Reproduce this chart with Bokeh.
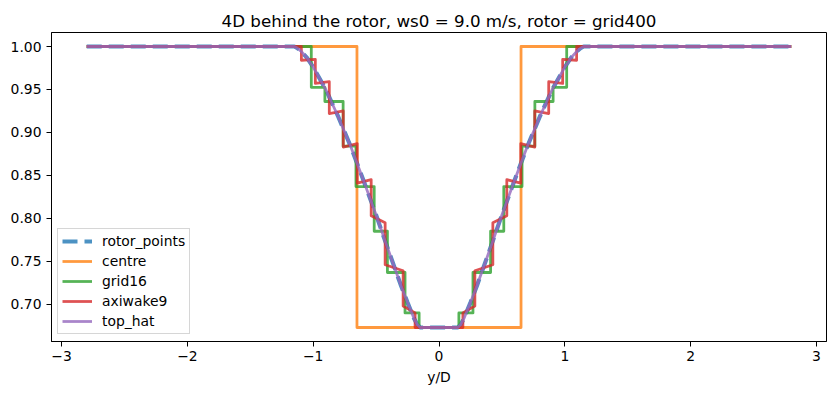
from bokeh.plotting import figure
from bokeh.models import FixedTicker, Range1d, Legend, LegendItem, CustomJSTickFormatter
from bokeh.embed import file_html
from bokeh.resources import INLINE

# ---- data ----
title_text = "4D behind the rotor, ws0 = 9.0 m/s, rotor = grid400"
x_ticks = [-3, -2, -1, 0, 1, 2, 3]
x_tick_labels = ["\u22123", "\u22122", "\u22121", "0", "1", "2", "3"]
y_ticks = [0.70, 0.75, 0.80, 0.85, 0.90, 0.95, 1.00]
y_tick_labels = ["0.70", "0.75", "0.80", "0.85", "0.90", "0.95", "1.00"]

top_hat_y = [-2.8, -1.15, -1.125, -1.1, -1.05, -1.0, -0.9, -0.8, -0.7, -0.6, -0.5, -0.4,
             -0.3, -0.25, -0.2, -0.175, -0.15, 0.15, 0.175, 0.2, 0.25, 0.3, 0.4, 0.5,
             0.6, 0.7, 0.8, 0.9, 1.0, 1.05, 1.1, 1.125, 1.15, 2.8]
top_hat_v = [1.0, 1.0, 0.998, 0.995, 0.987, 0.976, 0.950, 0.918, 0.883, 0.844, 0.804, 0.762,
             0.721, 0.702, 0.684, 0.677, 0.673, 0.673, 0.677, 0.684, 0.702, 0.721, 0.762, 0.804,
             0.844, 0.883, 0.918, 0.950, 0.976, 0.987, 0.995, 0.998, 1.0, 1.0]

rotor_points_y = [-2.8, -1.15, -1.125, -1.1, -1.05, -1.0, -0.9, -0.8, -0.7, -0.6, -0.5, -0.4,
                  -0.3, -0.25, -0.2, -0.175, -0.15, 0.15, 0.175, 0.2, 0.25, 0.3, 0.4, 0.5,
                  0.6, 0.7, 0.8, 0.9, 1.0, 1.05, 1.1, 1.125, 1.15, 2.8]
rotor_points_v = [1.0, 1.0, 0.998, 0.995, 0.987, 0.976, 0.950, 0.918, 0.883, 0.844, 0.804, 0.762,
                  0.721, 0.702, 0.684, 0.677, 0.673, 0.673, 0.677, 0.684, 0.702, 0.721, 0.762, 0.804,
                  0.844, 0.883, 0.918, 0.950, 0.976, 0.987, 0.995, 0.998, 1.0, 1.0]

centre_y = [-2.8, -0.652, 0.652, 2.8]
centre_v = [1.0, 0.673, 1.0, 1.0]

grid16_y = [-2.8, -1.015, -0.907, -0.762, -0.66, -0.515, -0.41, -0.27, -0.158,
            0.158, 0.27, 0.41, 0.515, 0.66, 0.762, 0.907, 1.015, 2.8]
grid16_v = [1.0, 0.9525, 0.936, 0.884, 0.837, 0.785, 0.737, 0.690, 0.673,
            0.690, 0.737, 0.785, 0.837, 0.884, 0.936, 0.9525, 1.0, 1.0]

axiwake9_y = [-2.8, -1.094, -1.094, -0.983, -0.983, -0.872, -0.872, -0.761, -0.761, -0.65,
              -0.65, -0.539, -0.539, -0.428, -0.428, -0.285, -0.285, -0.19, -0.19,
              0.19, 0.19, 0.285, 0.285, 0.428, 0.428, 0.539, 0.539, 0.65, 0.65,
              0.761, 0.761, 0.872, 0.872, 0.983, 0.983, 1.094, 1.094, 2.8]
axiwake9_v = [1.0, 1.0, 0.984, 0.985, 0.957, 0.959, 0.922, 0.925, 0.883, 0.887,
              0.841, 0.845, 0.803, 0.795, 0.746, 0.739, 0.698, 0.690, 0.673,
              0.673, 0.690, 0.698, 0.739, 0.746, 0.795, 0.803, 0.845, 0.841, 0.887,
              0.883, 0.925, 0.922, 0.959, 0.957, 0.985, 0.984, 1.0, 1.0]

series_names = ["rotor_points", "centre", "grid16", "axiwake9", "top_hat"]
colors = ["#1f77b4", "#ff7f0e", "#2ca02c", "#d62728", "#9467bd"]

FONT = "DejaVu Sans"

p = figure(width=835, height=393, output_backend="svg", toolbar_location=None,
           x_range=Range1d(-3.08, 3.08), y_range=Range1d(0.6567, 1.0163),
           min_border_left=51, min_border_right=9, min_border_top=32, min_border_bottom=52,
           title=title_text)
p.title.text_font = FONT
p.title.text_font_size = "16.7px"
p.title.text_font_style = "normal"
p.title.align = "center"
p.title.standoff = 4
p.title.text_color = "black"

p.xgrid.visible = False
p.ygrid.visible = False
p.outline_line_color = "black"
p.outline_line_alpha = 1.0
p.outline_line_width = 1
p.background_fill_color = "white"
p.border_fill_color = "white"

p.xaxis.ticker = FixedTicker(ticks=x_ticks)
p.yaxis.ticker = FixedTicker(ticks=y_ticks)
p.xaxis.formatter = CustomJSTickFormatter(args=dict(t=x_ticks, l=x_tick_labels),
    code="const i = t.indexOf(tick); return i >= 0 ? l[i] : String(tick);")
p.yaxis.formatter = CustomJSTickFormatter(args=dict(t=y_ticks, l=y_tick_labels),
    code="const i = t.indexOf(tick); return i >= 0 ? l[i] : String(tick);")
for ax in (p.xaxis, p.yaxis):
    ax.major_tick_out = 5
    ax.major_tick_in = 0
    ax.minor_tick_out = 0
    ax.minor_tick_in = 0
    ax.axis_line_color = "black"
    ax.major_tick_line_color = "black"
    ax.major_label_text_font = FONT
    ax.major_label_text_font_size = "13.9px"
    ax.major_label_text_color = "black"
    ax.major_label_standoff = 5
p.xaxis.major_label_standoff = 4
p.xaxis.axis_label = "y/D"
p.xaxis.axis_label_text_font = FONT
p.xaxis.axis_label_text_font_size = "13.9px"
p.xaxis.axis_label_text_font_style = "normal"
p.xaxis.axis_label_text_color = "black"
p.xaxis.axis_label_standoff = 5

r0 = p.line(rotor_points_y, rotor_points_v, line_color=colors[0], line_alpha=0.8,
            line_width=4.17, line_dash="15 7")
r1 = p.step(centre_y, centre_v, mode="after", line_color=colors[1], line_alpha=0.8,
            line_width=2.78, line_join="round")
r2 = p.step(grid16_y, grid16_v, mode="after", line_color=colors[2], line_alpha=0.8,
            line_width=2.78, line_join="round")
r3 = p.line(axiwake9_y, axiwake9_v, line_color=colors[3], line_alpha=0.8,
            line_width=2.78, line_join="round")
r4 = p.line(top_hat_y, top_hat_v, line_color=colors[4], line_alpha=0.8,
            line_width=2.78, line_join="round")

legend = Legend(items=[LegendItem(label=n, renderers=[r]) for n, r in
                       zip(series_names, [r0, r1, r2, r3, r4])],
                location=(6, 7))
legend.label_text_font = FONT
legend.label_text_font_size = "13.9px"
legend.label_text_color = "black"
legend.glyph_width = 30
legend.glyph_height = 14
legend.label_height = 14
legend.spacing = 4
legend.padding = 4
legend.margin = 0
legend.label_standoff = 10
legend.border_line_color = "#cccccc"
legend.border_line_alpha = 0.8
legend.border_line_width = 1
legend.background_fill_color = "white"
legend.background_fill_alpha = 0.8
p.add_layout(legend)

open("out.html", "w").write(file_html(p, INLINE))
